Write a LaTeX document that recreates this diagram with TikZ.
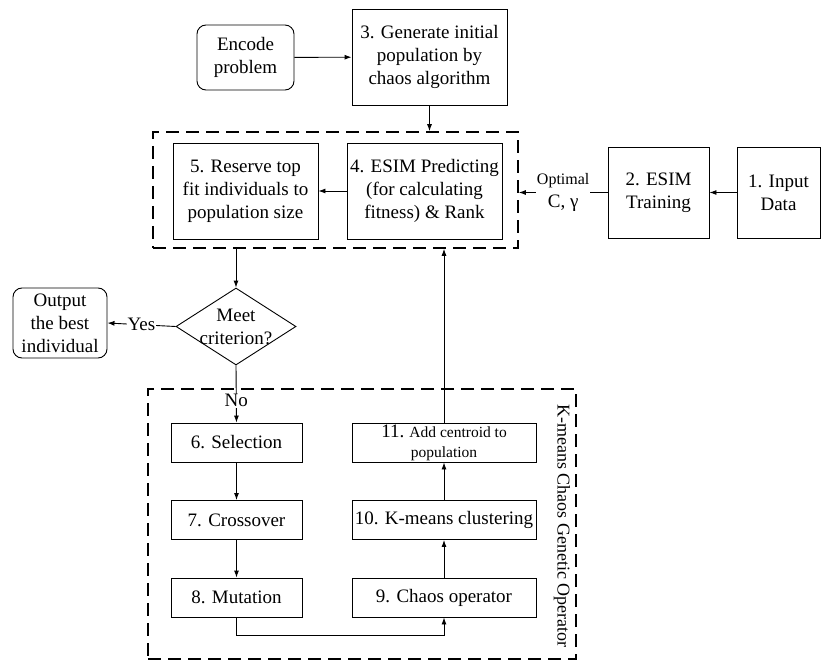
\documentclass[tikz,border=0pt]{standalone}
\usepackage{fontspec}
\setmainfont{Liberation Serif}
\usetikzlibrary{shapes.geometric,arrows.meta}

\tikzset{
  block/.style={rectangle, draw, line width=0.9pt, align=center, inner sep=0pt},
  roundblock/.style={block, rounded corners=9pt},
  decision/.style={diamond, draw, line width=0.9pt, inner sep=0pt},
  groupbox/.style={rectangle, draw, line width=1.6pt, dash pattern=on 13pt off 7pt, inner sep=0pt},
  flow/.style={-{Latex[length=7pt,width=5pt]}, line width=0.9pt},
  steplabel/.style={fill=white, inner sep=1pt, align=center},
}

\begin{document}
\begin{tikzpicture}[x=1pt, y=-1pt, font=\fontsize{19}{23}\selectfont]

    \useasboundingbox (0,0) rectangle (822,663);

    % top row
    \node (enc) [roundblock, minimum width=97pt, minimum height=65pt] at (245.5,57.5) {Encode\\problem};
    \node (gen) [block, minimum width=155pt, minimum height=96pt] at (429.5,57) {3. Generate initial\\population by\\chaos algorithm};

    % upper group
    \node (upper) [groupbox, minimum width=365pt, minimum height=116pt] at (335.5,190) {};
    \node (reserve) [block, minimum width=145pt, minimum height=96pt] at (245.5,191) {5. Reserve top\\fit individuals to\\population size};
    \node (predict) [block, minimum width=155pt, minimum height=96pt] at (424.5,191) {4. ESIM Predicting\\(for calculating\\fitness) \& Rank};
    \node (train) [block, minimum width=101pt, minimum height=91pt] at (658.5,192.5) {2. ESIM\\Training};
    \node (input) [block, minimum width=83pt, minimum height=91pt] at (778.5,192.5) {1. Input\\Data};

    % decision
    \node (meet) [decision, minimum width=120pt, minimum height=77pt] at (236,326.5) {};
    \node (meettext) [align=center] at (meet) {Meet\\criterion?};
    \node (out) [roundblock, minimum width=94pt, minimum height=70pt] at (60,323) {Output\\the best\\individual};

    % lower group
    \node (lower) [groupbox, minimum width=428pt, minimum height=270pt] at (362,524) {};
    \node (oplabel) [rotate=-90, font=\fontsize{18}{21}\selectfont] at (562,526) {K-means Chaos Genetic Operator};
    \node (sel) [block, minimum width=131pt, minimum height=39pt] at (236.5,442.5) {6. Selection};
    \node (cross) [block, minimum width=131pt, minimum height=39pt] at (236.5,520) {7. Crossover};
    \node (mut) [block, minimum width=131pt, minimum height=39pt] at (236.5,597.5) {8. Mutation};
    \node (chaos) [block, minimum width=184pt, minimum height=39pt] at (444,597.5) {9. Chaos operator};
    \node (kmeans) [block, minimum width=184pt, minimum height=39pt] at (444,520) {10. K-means clustering};
    \node (centroid) [block, minimum width=184pt, minimum height=39pt, font=\fontsize{15.5}{20}\selectfont] at (444,442.5) {{\fontsize{19}{20}\selectfont 11.} Add centroid to\\population};

    \draw [flow] (enc) -- (gen);
    \draw [flow] (gen.south) -- (gen.south |- upper.north);
    \draw [flow] (input) -- (train);
    \draw [flow] (train.west) -- node [steplabel] {{\fontsize{16}{23}\selectfont Optimal}\\C, γ} (train.west -| upper.east);
    \draw [flow] (predict) -- (reserve);
    \draw [flow] (meet.north |- upper.south) -- (meet.north);
    \draw [flow] (meet.west) -- node [steplabel] {Yes} (out.east);
    \draw [flow] (meet.south) -- node [steplabel, pos=0.62] {No} (sel.north);
    \draw [flow] (sel) -- (cross);
    \draw [flow] (cross) -- (mut);
    \draw [flow] (mut.south) -- ++(0,18) -| (chaos.south);
    \draw [flow] (chaos) -- (kmeans);
    \draw [flow] (kmeans) -- (centroid);
    \draw [flow] (centroid.north) -- (centroid.north |- upper.south);

\end{tikzpicture}
\end{document}
